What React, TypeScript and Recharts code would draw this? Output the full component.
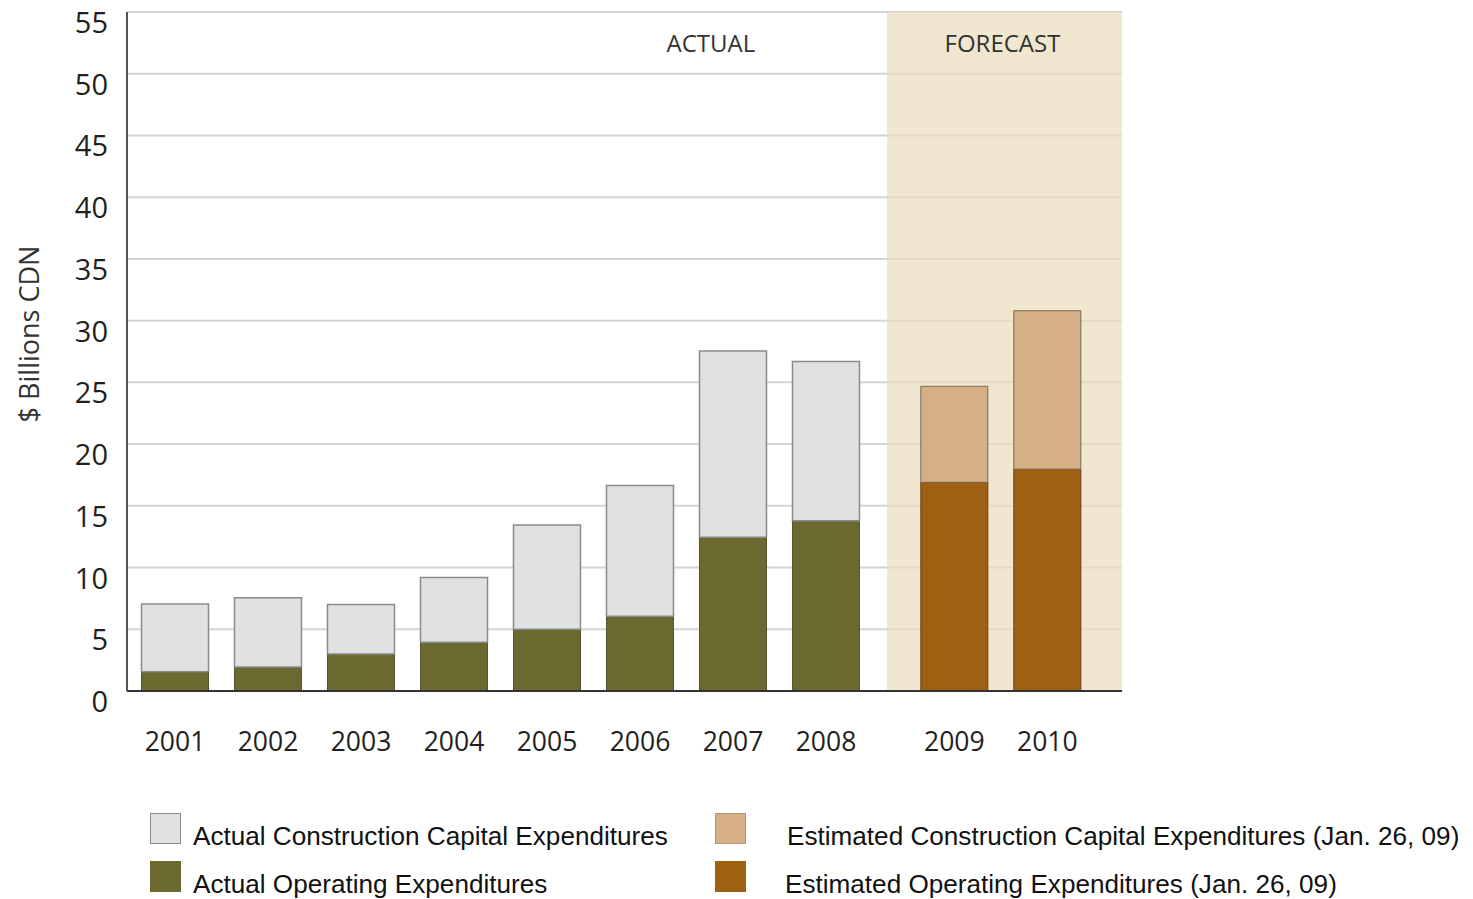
import React from 'react';
import { ComposedChart, Bar, XAxis, YAxis, CartesianGrid, ReferenceArea, ReferenceLine } from 'recharts';

const years = ['2001', '2002', '2003', '2004', '2005', '2006', '2007', '2008', '2009', '2010'];
const actualOperating = [1.55, 1.95, 3.0, 3.95, 5.0, 6.05, 12.45, 13.8, null, null];
const actualCapital = [5.5, 5.6, 4.0, 5.25, 8.45, 10.6, 15.1, 12.9, null, null];
const estOperating = [null, null, null, null, null, null, null, null, 16.9, 17.97];
const estCapital = [null, null, null, null, null, null, null, null, 7.78, 12.83];
const yTicks = [0, 5, 10, 15, 20, 25, 30, 35, 40, 45, 50, 55];

const FORECAST_GAP = 0.38;
const slot = (i: number) => (i < 8 ? i : i + FORECAST_GAP);

const data = years.map((y, i) => ({
  year: y,
  pos: slot(i),
  opA: actualOperating[i],
  capA: actualCapital[i],
  opE: estOperating[i],
  capE: estCapital[i],
}));

const xTicks = data.map((d) => d.pos);
const labelFor = (v: number) => {
  const d = data.find((r) => Math.abs(r.pos - v) < 1e-6);
  return d ? d.year : '';
};

const AXIS_FONT = '"Open Sans", "DejaVu Sans", sans-serif';
const LEGEND_FONT = '"Liberation Sans", Arial, sans-serif';

const YTick = (props: any) => {
  const { x, y, payload } = props;
  return (
    <text x={x} y={y + 21} textAnchor="end" fontFamily={AXIS_FONT} fontSize={29} fill="#231f20">
      {payload.value}
    </text>
  );
};

const XTick = (props: any) => {
  const { x, y, payload } = props;
  return (
    <text x={x} y={y + 60} textAnchor="middle" fontFamily={AXIS_FONT} fontSize={26.5} fill="#231f20">
      {labelFor(payload.value)}
    </text>
  );
};

const legendItems = [
  { label: 'Actual Construction Capital Expenditures', color: '#e0e1e3', border: '#8a8a8a', left: 142, top: 813, textLeft: 185 },
  { label: 'Actual Operating Expenditures', color: '#6b6830', border: '#6b6830', left: 142, top: 861, textLeft: 185 },
  { label: 'Estimated Construction Capital Expenditures (Jan. 26, 09)', color: '#d5b086', border: '#b59670', left: 707, top: 813, textLeft: 779 },
  { label: 'Estimated Operating Expenditures (Jan. 26, 09)', color: '#9e6112', border: '#9e6112', left: 707, top: 861, textLeft: 777 },
];

export default function App() {
  return (
    <div style={{ position: 'relative', width: 1465, height: 899, marginTop: -8 }}>
      <ComposedChart
        width={1465}
        height={899}
        data={data}
        margin={{ top: 12, right: 351, left: 0, bottom: 148 }}
        barGap={0}
        style={{ overflow: 'visible' }}
      >
        <CartesianGrid horizontal vertical={false} stroke="#d4d4d4" strokeWidth={2} />
        <ReferenceArea
          x1={7.656}
          x2={10.183}
          y1={0}
          y2={55}
          fill="#ebddbd"
          fillOpacity={0.72}
          stroke="none"
          ifOverflow="visible"
          label={(p: any) => {
            const vb = p.viewBox || {};
            return (
              <text
                x={vb.x + vb.width / 2 - 2}
                y={vb.y + 40}
                textAnchor="middle"
                fontFamily={AXIS_FONT}
                fontSize={24}
                fill="#333"
              >
                FORECAST
              </text>
            );
          }}
        />
        <ReferenceLine
          x={5.763}
          stroke="none"
          label={(p: any) => {
            const vb = p.viewBox || {};
            return (
              <text x={vb.x} y={vb.y + 40} textAnchor="middle" fontFamily={AXIS_FONT} fontSize={24} fill="#333">
                ACTUAL
              </text>
            );
          }}
        />
        <XAxis
          type="number"
          dataKey="pos"
          domain={[-0.516, 10.183]}
          allowDataOverflow
          ticks={xTicks}
          interval={0}
          tick={<XTick />}
          tickLine={false}
          tickSize={0}
          tickMargin={0}
          axisLine={{ stroke: '#333', strokeWidth: 2 }}
          height={60}
        />
        <YAxis
          type="number"
          domain={[0, 55]}
          ticks={yTicks}
          interval={0}
          width={119}
          tick={<YTick />}
          tickLine={false}
          tickSize={0}
          tickMargin={19}
          axisLine={{ stroke: '#555', strokeWidth: 2 }}
          label={() => {
            const cx = 20;
            const cy = 334;
            return (
              <text
                x={cx}
                y={cy}
                transform={`rotate(-90, ${cx}, ${cy})`}
                textAnchor="middle"
                dominantBaseline="central"
                fontFamily={AXIS_FONT}
                fontSize={27}
                fill="#333"
              >
                $ Billions CDN
              </text>
            );
          }}
        />
        <Bar dataKey="opA" stackId="s" barSize={67} fill="#6b6830" stroke="#55532a" strokeWidth={1} isAnimationActive={false} />
        <Bar dataKey="capA" stackId="s" barSize={67} fill="#e0e1e3" stroke="#8a8a8a" strokeWidth={1.5} isAnimationActive={false} />
        <Bar dataKey="opE" stackId="s" barSize={67} fill="#9e6112" stroke="#5e4020" strokeWidth={1} isAnimationActive={false} />
        <Bar dataKey="capE" stackId="s" barSize={67} fill="#d5b086" stroke="#7a6650" strokeWidth={1} isAnimationActive={false} />
      </ComposedChart>
      {legendItems.map((it) => (
        <React.Fragment key={it.label}>
          <div
            style={{
              position: 'absolute',
              left: it.left,
              top: it.top,
              width: 29,
              height: 29,
              background: it.color,
              border: `1px solid ${it.border}`,
            }}
          />
          <div
            style={{
              position: 'absolute',
              left: it.textLeft,
              top: it.top + 9,
              fontFamily: LEGEND_FONT,
              fontSize: 25,
              lineHeight: '28px',
              color: '#111',
              whiteSpace: 'nowrap',
              transform: 'scaleX(1.045)',
              transformOrigin: 'left center',
            }}
          >
            {it.label}
          </div>
        </React.Fragment>
      ))}
    </div>
  );
}
